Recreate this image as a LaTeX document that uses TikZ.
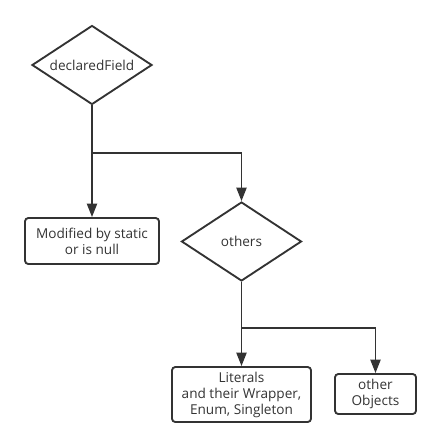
\documentclass[tikz,border=0pt]{standalone}
\usepackage{fontspec}
\setmainfont{Open Sans}
\usetikzlibrary{arrows.meta,shapes.geometric,positioning}
\definecolor{ink}{HTML}{333333}

\begin{document}
\begin{tikzpicture}[x=0.75pt, y=-0.75pt, line width=1.4pt, color=ink,
    font=\fontsize{10.2}{12}\selectfont,
    decision/.style={draw, diamond, aspect=1.52, minimum width=90pt, minimum height=59.25pt, inner sep=1pt},
    block/.style={draw, rectangle, rounded corners=2.5pt, align=center, inner sep=1pt},
    arr/.style={-{Triangle[length=10pt, width=7.5pt]}}]
    \useasboundingbox (0,0) rectangle (441,446);

    % First decision
    \node[decision] (decl) at (92,65) {declaredField};
    \node[block, minimum width=100.5pt, minimum height=34.5pt] (mod) at (92,241) {Modified by static\\or is null};
    \node[decision] (oth) at (241.5,241.5) {others};

    % Leaves
    \node[block, minimum width=104.25pt, minimum height=41.25pt] (lit) at (241.5,394.5) {Literals\\and their Wrapper,\\Enum, Singleton};
    \node[block, minimum width=60.75pt, minimum height=30pt] (obj) at (375.5,394) {other\\Objects};

    % Branch points
    \coordinate (split1) at (92,153);
    \coordinate (split2) at (241.5,328);

    % Connect nodes
    \draw[arr] (decl) -- (mod);
    \draw[arr] (split1) -| (oth.north);

    \draw[arr] (oth) -- (lit);
    \draw[arr] (split2) -| (obj.north);
\end{tikzpicture}
\end{document}
